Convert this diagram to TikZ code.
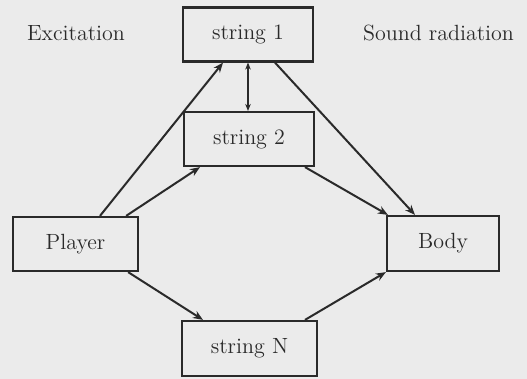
\documentclass[tikz,border=0pt]{standalone}
\usetikzlibrary{arrows.meta,calc}
\definecolor{bg}{HTML}{EBEBEB}
\definecolor{ink}{HTML}{2A2A2A}
\begin{document}
\begin{tikzpicture}[x=0.5pt,y=-0.5pt,
  box/.style={draw=ink,line width=1.1pt,minimum width=#1,inner sep=0pt,minimum height=27pt,text=ink,font=\fontsize{11}{13}\selectfont},
  lbl/.style={text=ink,font=\fontsize{11}{13}\selectfont},
  arr/.style={draw=ink,line width=1pt,-{Stealth[length=5pt,width=4pt]}},
  darr/.style={draw=ink,line width=0.8pt,{Stealth[length=3.5pt,width=2.8pt]}-{Stealth[length=3.5pt,width=2.8pt]}}]
\fill[bg] (0,0) rectangle (527,379);
\useasboundingbox (0,0) rectangle (527,379);
\node[box=65pt] (s1) at (248,34.5) {string 1};
\node[box=65pt] (s2) at (249,139) {string 2};
\node[box=62.5pt] (pl) at (75.5,244) {Player};
\node[box=56pt,minimum height=27.5pt] (bd) at (443,243.5) {Body};
\node[box=67.5pt,minimum height=27.5pt] (sn) at (249.5,348.5) {string N};
\node[lbl] (ex) at (76,33) {Excitation};
\node[lbl] (sr) at (438.5,33) {Sound radiation};
\draw[arr] ($(pl.north)+(24.5,0)$) -- ($(s1.south)+(-25,0)$);
\draw[arr] ($(pl.north east)+(-13,0)$) -- ($(s2.south)+(-49,0)$);
\draw[arr] ($(s1.south)+(27,0)$) -- ($(bd.north)+(-28,0)$);
\draw[arr] ($(s2.south)+(56,0)$) -- ($(bd.north west)+(2,0)$);
\draw[arr] ($(pl.south east)+(-11,0)$) -- ($(sn.north)+(-46.5,0)$);
\draw[arr] ($(sn.north)+(55.5,0)$) -- (bd.south west);
\draw[darr] (s1.south) -- (s1.south |- s2.north);
\end{tikzpicture}
\end{document}
